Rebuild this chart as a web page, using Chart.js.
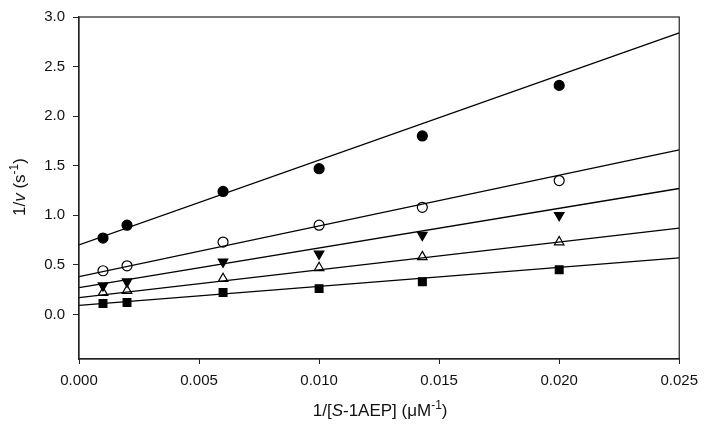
<!DOCTYPE html>
<html>
<head>
<meta charset="utf-8">
<script src="https://cdn.jsdelivr.net/npm/chart.js@4"></script>
<style>
  html, body { margin: 0; padding: 0; background: #fff; }
  #wrap { width: 706px; height: 427px; }
</style>
</head>
<body>
<div id="wrap"><canvas id="myChart" width="706" height="427"></canvas></div>
<script>
// 1/[S-1AEP] values (uM^-1)
const xValues = [0.001, 0.002, 0.006, 0.010, 0.0143, 0.020];

// 1/v measured points, one list per inhibitor level
const filledCircle = [0.77, 0.90, 1.24, 1.47, 1.80, 2.31];
const openCircle = [0.44, 0.49, 0.73, 0.90, 1.08, 1.35];
const filledTriangleDown = [0.29, 0.33, 0.53, 0.61, 0.80, 1.00];
const openTriangle = [0.22, 0.24, 0.36, 0.47, 0.58, 0.73];
const filledSquare = [0.11, 0.12, 0.22, 0.26, 0.33, 0.45];

// fitted lines, read at x = 0 and x = 0.025
const lineX = [0, 0.025];
const fitFilledCircle = [0.70, 2.84];
const fitOpenCircle = [0.38, 1.66];
const fitFilledTriangleDown = [0.27, 1.27];
const fitOpenTriangle = [0.17, 0.87];
const fitFilledSquare = [0.09, 0.57];

const yTicks = [0, 0.5, 1.0, 1.5, 2.0, 2.5, 3.0];
const xTicks = [0, 0.005, 0.010, 0.015, 0.020, 0.025];

const toPoints = (xs, ys) => xs.map((x, i) => ({ x: x, y: ys[i] }));

function pointSet(ys, style, fill, radius, rotation) {
  return {
    data: toPoints(xValues, ys),
    showLine: false,
    pointStyle: style,
    pointRadius: radius,
    pointRotation: rotation || 0,
    pointBackgroundColor: fill,
    pointBorderColor: "#000",
    pointBorderWidth: 1.2,
  };
}

function fitSet(ys) {
  return {
    data: toPoints(lineX, ys),
    showLine: true,
    borderColor: "#000",
    borderWidth: 1.3,
    pointRadius: 0,
    fill: false,
  };
}

const FONT = "'Liberation Sans', Arial, sans-serif";

// writes a run of text pieces (normal / italic / superscript) starting at x
function drawRuns(ctx, parts, x, y) {
  parts.forEach(p => {
    ctx.font = p.f;
    ctx.fillText(p.t, x, p.sup ? y - 7 : y);
    x += ctx.measureText(p.t).width;
  });
}

function runsWidth(ctx, parts) {
  let w = 0;
  parts.forEach(p => { ctx.font = p.f; w += ctx.measureText(p.t).width; });
  return w;
}

// box frame + axis titles with italic parts
const framePlugin = {
  id: "frame",
  afterDraw(chart) {
    const ctx = chart.ctx;
    const a = chart.chartArea;
    ctx.save();
    ctx.strokeStyle = "#222";
    ctx.lineWidth = 1.2;
    ctx.strokeRect(a.left, a.top, a.right - a.left, a.bottom - a.top);

    ctx.fillStyle = "#111";
    ctx.textBaseline = "alphabetic";

    const xParts = [
      { t: "1/[", f: "17px " + FONT },
      { t: "S", f: "italic 17px " + FONT },
      { t: "-1AEP] (\u03BCM", f: "17px " + FONT },
      { t: "-1", f: "12px " + FONT, sup: true },
      { t: ")", f: "17px " + FONT },
    ];
    const xw = runsWidth(ctx, xParts);
    drawRuns(ctx, xParts, (a.left + a.right) / 2 - xw / 2 + 1, 416);

    const yParts = [
      { t: "1/", f: "17px " + FONT },
      { t: "v", f: "italic 17px " + FONT },
      { t: " (s", f: "17px " + FONT },
      { t: "-1", f: "12px " + FONT, sup: true },
      { t: ")", f: "17px " + FONT },
    ];
    const yw = runsWidth(ctx, yParts);
    ctx.translate(25, 187);
    ctx.rotate(-Math.PI / 2);
    drawRuns(ctx, yParts, -yw / 2, 0);
    ctx.restore();
  },
};

const canvas = document.getElementById("myChart");
const myChart = new Chart(canvas, {
  type: "scatter",
  data: {
    datasets: [
      fitSet(fitFilledCircle),
      fitSet(fitOpenCircle),
      fitSet(fitFilledTriangleDown),
      fitSet(fitOpenTriangle),
      fitSet(fitFilledSquare),
      pointSet(filledCircle, "circle", "#000", 5),
      pointSet(openCircle, "circle", "#fff", 5),
      pointSet(filledTriangleDown, "triangle", "#000", 5.5, 180),
      pointSet(openTriangle, "triangle", "#fff", 5.5),
      pointSet(filledSquare, "rect", "#000", 5.5),
    ],
  },
  options: {
    responsive: false,
    animation: false,
    events: [],
    layout: { padding: { top: 11, right: 25, left: 0, bottom: 0 } },
    plugins: { legend: { display: false }, tooltip: { enabled: false } },
    scales: {
      x: {
        type: "linear",
        min: 0,
        max: 0.025,
        afterBuildTicks: (s) => { s.ticks = xTicks.map(v => ({ value: v })); },
        afterFit: (s) => { s.height = 68; },
        grid: { drawOnChartArea: false, drawTicks: true, tickLength: 5, color: "#222" },
        border: { color: "#222", width: 1.2 },
        ticks: {
          color: "#111",
          padding: 8,
          font: { family: FONT, size: 15 },
          callback: (v) => v.toFixed(3),
        },
      },
      y: {
        type: "linear",
        min: -0.45,
        max: 3.0,
        afterBuildTicks: (s) => { s.ticks = yTicks.map(v => ({ value: v })); },
        afterFit: (s) => { s.width = 79; },
        grid: { drawOnChartArea: false, drawTicks: true, tickLength: 6, color: "#222" },
        border: { color: "#222", width: 1.2 },
        ticks: {
          color: "#111",
          padding: 8,
          font: { family: FONT, size: 15 },
          callback: (v) => v.toFixed(1),
        },
      },
    },
  },
  plugins: [framePlugin],
});
</script>
</body>
</html>
